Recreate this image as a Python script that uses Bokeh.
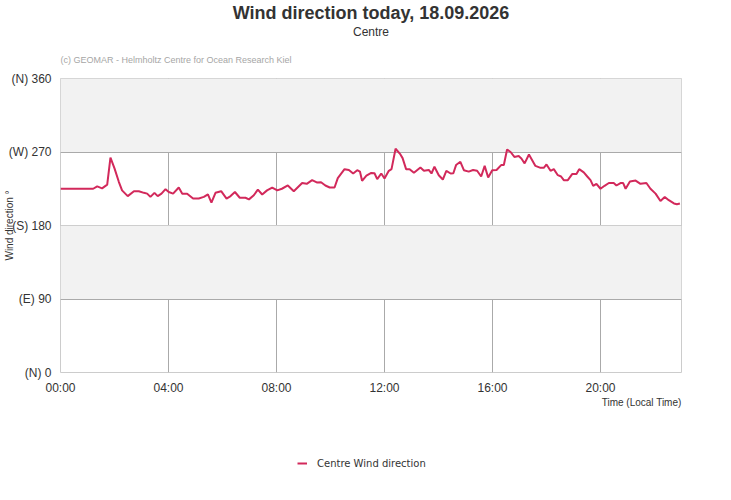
from bokeh.plotting import figure
from bokeh.embed import file_html
from bokeh.resources import INLINE
from bokeh.layouts import column
from bokeh.models import (BoxAnnotation, FixedTicker, Legend, LegendItem,
                          Range1d, Title)

# Wind direction readings (hour of day, degrees)
hours = [
    0.00, 1.21, 1.36, 1.54, 1.73, 1.85, 2.00, 2.16, 2.28, 2.49, 2.72, 2.90,
    3.09, 3.21, 3.33, 3.48, 3.60, 3.74, 3.89, 4.01, 4.17, 4.38, 4.51, 4.69,
    4.91, 5.12, 5.31, 5.46, 5.59, 5.74, 5.95, 6.15, 6.30, 6.46, 6.64, 6.85,
    6.98, 7.16, 7.31, 7.47, 7.65, 7.84, 8.03, 8.20, 8.42, 8.64, 8.95, 9.12,
    9.32, 9.51, 9.65, 9.81, 9.97, 10.15, 10.27, 10.52, 10.68, 10.84, 10.99,
    11.09, 11.17, 11.33, 11.51, 11.63, 11.73, 11.88, 12.00, 12.16, 12.26,
    12.41, 12.59, 12.67, 12.80, 12.93, 13.09, 13.33, 13.46, 13.64, 13.74,
    13.85, 14.01, 14.16, 14.29, 14.45, 14.55, 14.65, 14.81, 14.94, 15.12,
    15.28, 15.43, 15.58, 15.71, 15.84, 15.99, 16.15, 16.32, 16.42, 16.54,
    16.67, 16.81, 16.97, 17.07, 17.19, 17.35, 17.47, 17.59, 17.78, 17.90,
    18.00, 18.15, 18.27, 18.42, 18.54, 18.64, 18.79, 18.95, 19.11, 19.21,
    19.38, 19.51, 19.63, 19.73, 19.85, 20.00, 20.15, 20.31, 20.49, 20.59,
    20.74, 20.84, 20.93, 21.09, 21.30, 21.48, 21.70, 21.85, 22.04, 22.22,
    22.38, 22.53, 22.72, 22.83, 22.94,
]
direction = [
    225, 225, 228, 225.5, 230, 263, 250, 233.5, 223, 216, 222, 222,
    220, 219, 215, 220, 216, 219, 224.5, 221, 219, 226.5, 219, 219,
    213, 213, 215, 218, 208, 220, 222, 213, 216, 221, 214, 214,
    212, 217, 224, 218, 223, 226.5, 223, 225, 229, 222, 232, 231,
    235.5, 232.6, 233, 229, 226.5, 226.5, 238, 249, 248, 243.7, 247.7,
    246, 234.7, 241, 244.4, 244, 236.7, 243.7, 237.6, 247, 249,
    274, 267, 262.5, 249, 249, 244.5, 251, 247, 248, 243.7,
    252, 241.6, 236.3, 247, 243.7, 244, 254, 258, 247.7, 246,
    248, 247, 240, 253, 238.8, 247.7, 248, 254, 254, 273,
    270, 264, 265, 262, 256, 267, 260, 253, 250.6, 250.6,
    254.7, 247, 249, 241.6, 240, 235.5, 235.5, 243, 243, 249,
    245, 240, 235.5, 228.6, 231, 225, 228.6, 232, 232, 229,
    232, 232, 225, 234, 235, 231, 232, 225, 219, 210,
    215, 211, 207, 206, 207,
]

x_ticks = [0, 4, 8, 12, 16, 20]
x_tick_labels = ["00:00", "04:00", "08:00", "12:00", "16:00", "20:00"]
y_ticks = [0, 90, 180, 270, 360]
y_tick_labels = ["(N) 0", "(E) 90", "(S) 180", "(W) 270", "(N) 360"]
shaded_bands = [(90, 180), (270, 360)]
series_name = "Centre Wind direction"

TEXT = "#333333"
FONT = "Liberation Sans"
LINE_COLOR = "#d2295b"
CANVAS_WIDTH = 723

p = figure(
    frame_width=621, frame_height=294,
    x_range=Range1d(0, 23), y_range=Range1d(0, 360),
    min_border_left=55, min_border_right=42,
    min_border_top=0, min_border_bottom=38,
    output_backend="svg", toolbar_location=None,
)
p.background_fill_color = "white"
p.border_fill_color = "white"
p.outline_line_color = "#cccccc"

for low, high in shaded_bands:
    p.add_layout(BoxAnnotation(bottom=low, top=high, fill_color="#f2f2f2",
                               fill_alpha=1, line_color=None, level="underlay"))

p.xgrid.ticker = FixedTicker(ticks=x_ticks)
p.ygrid.ticker = FixedTicker(ticks=y_ticks)
p.grid.grid_line_color = "#aaaaaa"
p.grid.grid_line_width = 1

p.xaxis.ticker = FixedTicker(ticks=x_ticks)
p.xaxis.major_label_overrides = dict(zip(x_ticks, x_tick_labels))
p.yaxis.ticker = FixedTicker(ticks=y_ticks)
p.yaxis.major_label_overrides = dict(zip(y_ticks, y_tick_labels))
for ax in (p.xaxis, p.yaxis):
    ax.axis_line_color = None
    ax.major_tick_line_color = None
    ax.minor_tick_line_color = None
    ax.major_tick_out = 0
    ax.major_label_text_font = FONT
    ax.major_label_text_font_size = "12px"
    ax.major_label_text_color = TEXT
p.xaxis.major_label_standoff = 8
p.yaxis.major_label_standoff = 9

# y axis title overlaps the tick label column a little, as in the original
p.yaxis.axis_label = "Wind direction °"
p.yaxis.axis_label_text_font = FONT
p.yaxis.axis_label_text_font_size = "10px"
p.yaxis.axis_label_text_font_style = "normal"
p.yaxis.axis_label_text_color = TEXT
p.yaxis.axis_label_standoff = -9

line = p.line(hours, direction, line_color=LINE_COLOR, line_width=2)

# titles above the frame: first added sits closest to the frame
p.add_layout(Title(text="(c) GEOMAR - Helmholtz Centre for Ocean Research Kiel",
                   align="left", text_font=FONT, text_font_size="9px",
                   text_font_style="normal", text_color="#a6a6a6",
                   standoff=28), "above")
p.add_layout(Title(text="Centre", align="center", text_font=FONT,
                   text_font_size="12px", text_font_style="normal",
                   text_color=TEXT, standoff=0), "above")
p.add_layout(Title(text="Wind direction today, 18.09.2026", align="center",
                   text_font=FONT, text_font_size="18px",
                   text_font_style="bold", text_color=TEXT, standoff=0),
             "above")

p.add_layout(Title(text="Time (Local Time)", align="right", text_font=FONT,
                   text_font_size="10px", text_font_style="normal",
                   text_color=TEXT, standoff=-6), "below")

# legend strip under the chart (a side-panel legend lands off the page).
# The same series is plotted here far outside the strip's ranges, so only
# its legend swatch shows.
key = figure(
    width=CANVAS_WIDTH, height=80,
    x_range=Range1d(0, 1), y_range=Range1d(0, 1),
    x_axis_type=None, y_axis_type=None, min_border=0,
    output_backend="svg", toolbar_location=None,
)
key.outline_line_color = None
key.border_fill_color = "white"
key_line = key.line(hours, direction, line_color=LINE_COLOR, line_width=2)

# the strip's frame is aligned with the chart frame (starts at x = 60)
legend = Legend(
    items=[LegendItem(label=series_name, renderers=[key_line])],
    location=(237, 21), orientation="horizontal", margin=0, padding=0,
    glyph_width=10, glyph_height=12, label_standoff=10,
    label_text_font="DejaVu Sans", label_text_font_size="10px",
    label_text_color=TEXT, border_line_color=None,
    background_fill_alpha=0,
)
key.add_layout(legend)

layout = column(p, key, spacing=0)

open("out.html", "w").write(file_html(layout, INLINE))
